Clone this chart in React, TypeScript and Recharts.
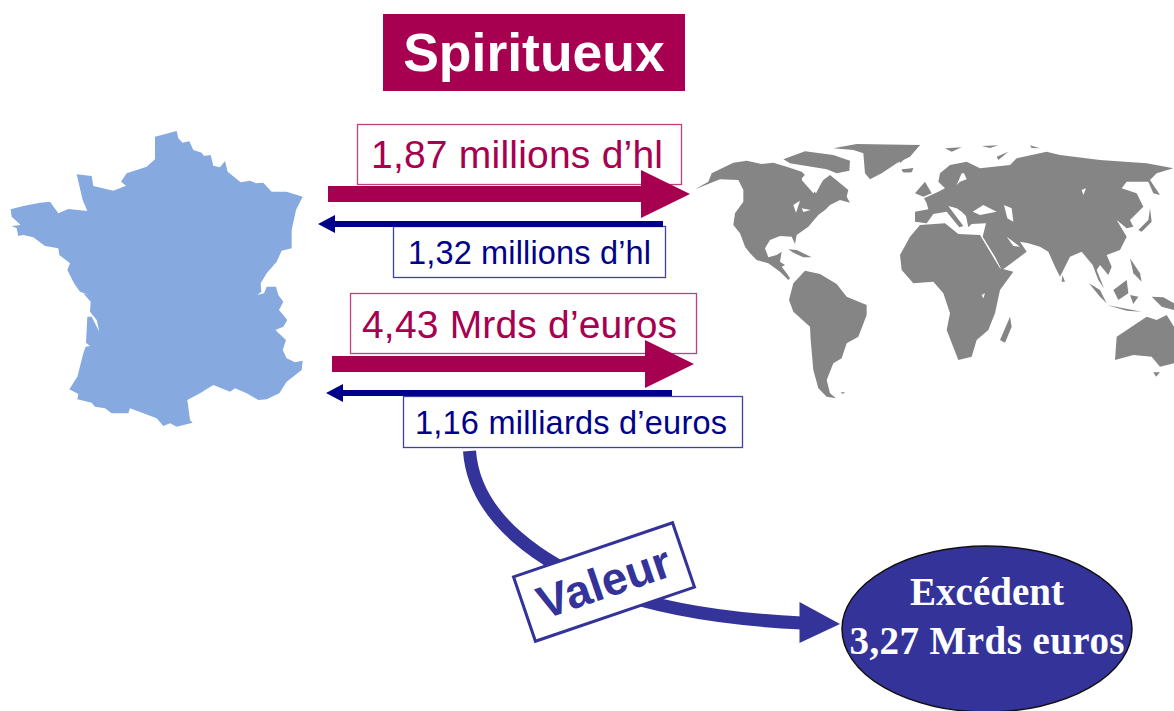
import React from "react";
import { ComposedChart, Scatter, XAxis, YAxis } from "recharts";

// ---------- values ----------
const flowValues = [1.87, 1.32, 4.43, 1.16];
const flowUnits = ["millions d’hl", "millions d’hl", "Mrds d’euros", "milliards d’euros"];
const surplusValue = 3.27;
const titleText = "Spiritueux";
const curveLabel = "Valeur";
const surplusTitle = "Excédent";
const surplusUnit = "Mrds euros";

// ---------- styles ----------
const CRIMSON = "#A80050";
const NAVY = "#00008B";
const INDIGO = "#333399";
const FRANCE = "#86A9DF";
const WORLD = "#858585";
const SANS = "'Liberation Sans', Arial, sans-serif";
const SERIF = "'Liberation Serif', 'Times New Roman', serif";

// ---------- map outlines ----------
type P = number[];
const france: P = [465,50,530,33,535,55,548,68,568,64,580,90,605,98,612,108,632,105,640,137,660,142,675,123,683,155,722,187,750,182,768,190,790,188,815,215,860,215,908,230,888,270,875,330,875,385,845,392,830,425,800,460,782,490,784,515,772,525,792,520,800,500,828,500,835,525,850,545,837,570,862,600,850,620,826,630,858,660,848,690,860,715,885,727,908,722,905,750,860,785,838,820,800,838,775,840,740,820,705,805,690,815,640,795,600,820,562,840,570,900,578,908,530,920,510,910,490,918,470,895,390,865,385,880,335,880,315,865,285,860,275,848,232,838,235,822,208,808,232,770,250,700,257,680,270,678,258,668,262,590,275,590,298,635,290,600,270,575,272,545,250,520,270,525,240,515,222,490,202,450,210,430,178,405,175,385,135,378,100,352,70,345,55,348,50,325,35,318,62,315,35,290,32,268,70,258,120,248,150,245,175,280,205,267,262,273,248,240,230,163,275,168,280,198,340,212,378,197,363,185,380,160,440,140,465,118];

const americas: P[] = [
  [15,148,55,125,65,100,130,68,170,62,215,72,250,68,290,80,335,95,345,105,335,120,370,160,400,120,420,105,445,125,475,150,470,170,480,188,450,180,420,195,405,210,385,225,355,260,320,285,315,312,305,290,270,288,240,300,225,325,235,352,260,345,275,335,270,365,285,375,275,380,290,400,300,415,295,420,270,395,235,370,200,360,180,340,165,320,150,280,130,255,135,220,160,185,160,150,145,120,90,118,60,130],
  [280,58,345,34,430,45,480,62,478,92,440,100,410,88,350,78,300,70],
  [430,25,500,12,690,15,660,50,620,70,575,100,540,118,525,100,520,40,490,30],
  [635,88,670,85,660,97,640,97],
  [295,328,320,330,365,352,340,352,310,338],
  [310,430,345,392,390,402,440,432,470,470,530,495,530,525,505,590,470,610,455,655,430,670,410,720,420,760,438,775,410,770,385,745,370,690,362,600,360,560,310,515,297,480],
  [452,757,465,757,458,762],
];
const americasHoles: P[] = [
  [335,115,345,105,400,118,378,160],
  [310,195,330,182,318,218],
  [335,205,362,210,340,216],
  [150,285,165,320,155,300],
];
const eurasia: P[] = [
  [45,215,85,208,80,190,72,175,115,155,135,145,115,125,120,100,150,75,200,65,240,85,330,75,350,55,440,35,480,45,600,60,740,70,820,85,770,100,750,120,780,165,760,160,745,125,680,125,665,145,710,160,730,200,690,240,700,260,680,265,650,240,680,290,660,330,620,345,635,380,625,405,600,375,590,390,612,445,595,420,578,375,545,335,510,350,480,410,465,380,445,335,420,320,385,310,360,305,380,335,320,380,305,390,285,350,248,290,258,250,215,252,205,262,198,228,185,215,170,205,145,198,190,258,178,262,140,215,100,222,80,250,45,245],
  [0,345,30,290,60,255,135,250,175,282,240,285,300,385,340,395,300,450,285,520,265,570,230,600,215,650,175,660,140,570,150,520,130,460,100,425,40,430,5,390],
  [45,160,75,125,95,160,70,170],
  [5,90,40,85,35,97,10,97],
  [0,15,60,15,20,50,0,70],
  [135,25,185,22,155,35],
  [245,18,295,16,270,24],
  [290,50,325,35,295,60],
  [390,16,420,25,395,24],
  [300,600,330,530,335,560,315,608],
  [487,405,495,425,485,425],
  [567,430,600,450,620,490,600,470],
  [620,495,725,515,680,512],
  [640,450,680,420,685,460,655,480],
  [690,355,720,400,725,425,700,400],
  [690,465,715,470,700,492],
  [755,470,790,472,822,490,822,510,785,500],
  [650,590,740,530,770,540,800,525,822,560,822,670,780,680,755,650,700,645,645,660],
  [760,697,780,697,768,710],
  [715,270,745,240,750,205,755,245,725,275],
];
const eurasiaHoles: P[] = [
  [218,215,250,195,290,215,240,225],
  [312,195,335,205,340,245,322,235],
  [320,290,360,320,340,318],
  [170,135,185,100,192,100,200,118,180,125],
  [545,150,558,145,550,165],
  [245,465,255,460,250,475],
];

const pts = (p: P, ox: number, oy: number, k: number) => {
  const out: string[] = [];
  for (let i = 0; i < p.length; i += 2) out.push(`${ox + p[i] / k},${oy + p[i + 1] / k}`);
  return out.join(" ");
};

const fmt = (v: number) => v.toFixed(2).replace(".", ",");

// ---------- layout of anchors (the library's scales place them) ----------
const mapAnchor = [{ x: 0, y: 0 }];
const rowsLayout = [
  { x: 357.5, y: 124.5, w: 324, h: 60, tx: 371, tw: 292, base: 168, fs: 39, col: CRIMSON, out: true, sx: 328, sy: 194, ex: 690 },
  { x: 393.5, y: 226.5, w: 272, h: 51, tx: 408, tw: 243, base: 264, fs: 32.5, col: NAVY, out: false, sx: 663, sy: 224, ex: 318 },
  { x: 350.5, y: 293.5, w: 346, h: 60, tx: 362, tw: 315, base: 338, fs: 39, col: CRIMSON, out: true, sx: 332, sy: 364, ex: 694 },
  { x: 403.5, y: 396.5, w: 339, h: 51, tx: 415, tw: 312, base: 434, fs: 32.5, col: NAVY, out: false, sx: 672, sy: 393, ex: 326 },
];
const boxRows = rowsLayout.map((r, i) => ({ ...r, value: flowValues[i], unit: flowUnits[i] }));
const titleAnchor = [{ x: 534, y: 52.5 }];
const curveAnchor = [{ x: 469.5, y: 451 }];
const labelAnchor = [{ x: 604, y: 582 }];
const ellipseAnchor = [{ x: 987, y: 629 }];

const MapShape = () => (
  <g>
    <defs>
      <filter id="soft" x="-5%" y="-5%" width="110%" height="110%">
        <feGaussianBlur stdDeviation="0.7" />
      </filter>
    </defs>
    <g filter="url(#soft)">
      <polygon points={pts(france, 0, 120, 3)} fill={FRANCE} />
      {americas.map((p, i) => <polygon key={i} points={pts(p, 690, 140, 3)} fill={WORLD} />)}
      {americasHoles.map((p, i) => <polygon key={i} points={pts(p, 690, 140, 3)} fill="#fff" />)}
      {eurasia.map((p, i) => <polygon key={i} points={pts(p, 900, 140, 3)} fill={WORLD} />)}
      {eurasiaHoles.map((p, i) => <polygon key={i} points={pts(p, 900, 140, 3)} fill="#fff" />)}
    </g>
  </g>
);

const TitleShape = (props: any) => (
  <g>
    <rect x={props.cx - 151} y={props.cy - 38.5} width={302} height={77} fill={CRIMSON} />
    <text x={props.cx} y={props.cy + 18} textAnchor="middle" fontFamily={SANS} fontWeight={700} fontSize={53.5} fill="#fff">{titleText}</text>
  </g>
);

const RowShape = (props: any) => {
  const r = props.payload ?? props;
  const dir = r.out ? 1 : -1;
  const half = r.out ? 8 : 3;
  const headLen = r.out ? 49 : 17;
  const headHalf = r.out ? 24 : 9;
  const neck = r.ex - dir * headLen;
  const arrow = `${r.sx},${r.sy - half} ${neck},${r.sy - half} ${neck},${r.sy - headHalf} ${r.ex},${r.sy} ${neck},${r.sy + headHalf} ${neck},${r.sy + half} ${r.sx},${r.sy + half}`;
  return (
    <g>
      <rect x={props.cx} y={props.cy} width={r.w} height={r.h} fill="#fff" stroke={r.col} strokeOpacity={0.75} strokeWidth={1.3} />
      <text x={r.tx} y={r.base} fontFamily={SANS} fontSize={r.fs} fill={r.col} textLength={r.tw} lengthAdjust="spacing">{`${fmt(r.value)} ${r.unit}`}</text>
      <polygon points={arrow} fill={r.col} />
    </g>
  );
};

const CurveShape = (props: any) => {
  const { cx, cy } = props;
  const d = `M${cx} ${cy} C${cx + 5} ${cy + 69} ${cx + 75} ${cy + 114} ${cx + 140} ${cy + 139} C${cx + 200} ${cy + 161} ${cx + 270} ${cy + 169} ${cx + 332} ${cy + 172}`;
  return (
    <g>
      <path d={d} fill="none" stroke={INDIGO} strokeWidth={13} />
      <polygon points={`${cx + 330},${cy + 151} ${cx + 370.5},${cy + 173} ${cx + 330},${cy + 192}`} fill={INDIGO} />
    </g>
  );
};

const LabelShape = (props: any) => {
  const { cx, cy } = props;
  return (
    <g transform={`translate(${cx} ${cy}) rotate(-18.8)`}>
      <rect x={-84} y={-34} width={168} height={68} fill="#fff" stroke={INDIGO} strokeWidth={3} />
      <text x={0} y={16} textAnchor="middle" fontFamily={SANS} fontWeight={700} fontSize={46} fill={INDIGO}>{curveLabel}</text>
    </g>
  );
};

const EllipseShape = (props: any) => {
  const { cx, cy } = props;
  return (
    <g>
      <ellipse cx={cx} cy={cy} rx={145} ry={83} fill={INDIGO} stroke="#111" strokeWidth={1.5} />
      <text x={cx} y={cy - 24} textAnchor="middle" fontFamily={SERIF} fontWeight={700} fontSize={39} fill="#fff">{surplusTitle}</text>
      <text x={cx} y={cy + 25} textAnchor="middle" fontFamily={SERIF} fontWeight={700} fontSize={39} fill="#fff" textLength={275} lengthAdjust="spacing">{`${fmt(surplusValue)} ${surplusUnit}`}</text>
    </g>
  );
};

export default function App() {
  return (
    <div style={{ position: "absolute", left: 0, top: 0, width: 1174, height: 711, background: "#fff", overflow: "hidden" }}>
      <ComposedChart width={1174} height={711} margin={{ top: 0, right: 0, bottom: 0, left: 0 }}>
        <XAxis type="number" dataKey="x" domain={[0, 1174]} hide allowDataOverflow />
        <YAxis type="number" dataKey="y" domain={[0, 711]} reversed hide allowDataOverflow />
        <Scatter data={mapAnchor} shape={MapShape} isAnimationActive={false} />
        <Scatter data={titleAnchor} shape={TitleShape} isAnimationActive={false} />
        <Scatter data={boxRows} shape={RowShape} isAnimationActive={false} />
        <Scatter data={curveAnchor} shape={CurveShape} isAnimationActive={false} />
        <Scatter data={labelAnchor} shape={LabelShape} isAnimationActive={false} />
        <Scatter data={ellipseAnchor} shape={EllipseShape} isAnimationActive={false} />
      </ComposedChart>
    </div>
  );
}
